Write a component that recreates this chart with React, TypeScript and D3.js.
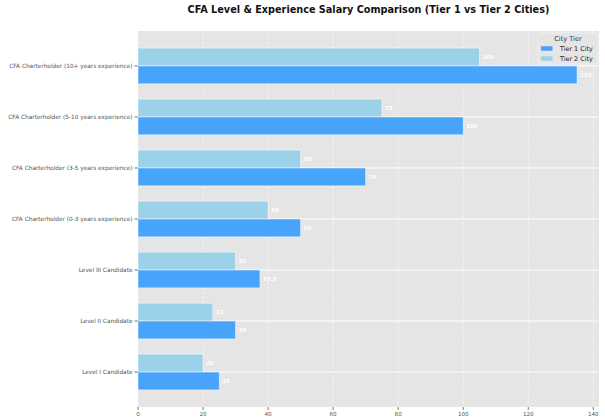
import { useEffect, useRef } from 'react'
import * as d3 from 'd3'

const categories = [
  'Level I Candidate',
  'Level II Candidate',
  'Level III Candidate',
  'CFA Charterholder (0-3 years experience)',
  'CFA Charterholder (3-5 years experience)',
  'CFA Charterholder (5-10 years experience)',
  'CFA Charterholder (10+ years experience)',
]
const tier1 = [25, 30, 37.5, 50, 70, 100, 135]
const tier2 = [20, 23, 30, 40, 50, 75, 105]
const seriesNames = ['Tier 1 City', 'Tier 2 City']
const xTicks = [0, 20, 40, 60, 80, 100, 120, 140]

const W = 605
const H = 419
const M = { left: 138, right: 6, top: 31, bottom: 12 }
const BAR = 0.35
const C1 = '#48a3fa'
const C2 = '#9cd2e9'

export default function App() {
  const ref = useRef<SVGSVGElement | null>(null)

  useEffect(() => {
    if (!ref.current) {return}
    const svg = d3.select(ref.current)
    svg.selectAll('*').remove()
    const font = 'DejaVu Sans, sans-serif'

    const x = d3.scaleLinear().domain([0, 135 * 1.05]).range([M.left, W - M.right])
    const yLo = -BAR - 6.7 * 0.05
    const yHi = 6 + BAR + 6.7 * 0.05
    const y = d3.scaleLinear().domain([yLo, yHi]).range([H - M.bottom, M.top])

    svg.append('rect')
      .attr('x', M.left).attr('y', M.top)
      .attr('width', W - M.right - M.left).attr('height', H - M.bottom - M.top)
      .attr('fill', '#e5e5e5')

    // grid
    svg.append('g').selectAll('line').data(xTicks).join('line')
      .attr('x1', (d) => x(d)).attr('x2', (d) => x(d))
      .attr('y1', M.top).attr('y2', H - M.bottom)
      .attr('stroke', '#ffffff').attr('stroke-opacity', 0.7)
      .attr('stroke-dasharray', '3,2').attr('stroke-width', 0.8)
    svg.append('g').selectAll('line').data(categories).join('line')
      .attr('x1', M.left).attr('x2', W - M.right)
      .attr('y1', (_, i) => y(i)).attr('y2', (_, i) => y(i))
      .attr('stroke', '#ffffff').attr('stroke-width', 1)

    const bh = y(0) - y(BAR)
    const bars = svg.append('g')
    bars.selectAll('rect.t2').data(tier2).join('rect')
      .attr('class', 't2')
      .attr('x', x(0)).attr('y', (_, i) => y(i + BAR))
      .attr('width', (d) => x(d) - x(0)).attr('height', bh)
      .attr('fill', C2).attr('stroke', '#ffffff').attr('stroke-opacity', 0.6).attr('stroke-width', 0.8)
    bars.selectAll('rect.t1').data(tier1).join('rect')
      .attr('class', 't1')
      .attr('x', x(0)).attr('y', (_, i) => y(i))
      .attr('width', (d) => x(d) - x(0)).attr('height', bh)
      .attr('fill', C1).attr('stroke', '#ffffff').attr('stroke-opacity', 0.6).attr('stroke-width', 0.8)

    const labels = svg.append('g')
      .attr('font-family', font).attr('font-size', 5.5).attr('font-weight', 'bold').attr('fill', '#ffffff')
    labels.selectAll('text.t2').data(tier2).join('text')
      .attr('class', 't2')
      .attr('x', (d) => x(d) + 3).attr('y', (_, i) => y(i + BAR / 2))
      .attr('dy', '0.35em').text((d) => String(d))
    labels.selectAll('text.t1').data(tier1).join('text')
      .attr('class', 't1')
      .attr('x', (d) => x(d) + 3).attr('y', (_, i) => y(i - BAR / 2))
      .attr('dy', '0.35em').text((d) => String(d))

    // y axis
    const ya = svg.append('g').attr('font-family', font).attr('font-size', 5.8).attr('fill', '#555555')
    ya.selectAll('line').data(categories).join('line')
      .attr('x1', M.left - 3.5).attr('x2', M.left)
      .attr('y1', (_, i) => y(i)).attr('y2', (_, i) => y(i))
      .attr('stroke', '#555555').attr('stroke-width', 0.8)
    ya.selectAll('text').data(categories).join('text')
      .attr('x', M.left - 5.5).attr('y', (_, i) => y(i))
      .attr('dy', '0.35em').attr('text-anchor', 'end').text((d) => d)

    // x axis
    const xa = svg.append('g').attr('font-family', font).attr('font-size', 5.6).attr('fill', '#555555')
    xa.selectAll('line').data(xTicks).join('line')
      .attr('x1', (d) => x(d)).attr('x2', (d) => x(d))
      .attr('y1', H - M.bottom).attr('y2', H - M.bottom + 3)
      .attr('stroke', '#555555').attr('stroke-width', 0.8)
    xa.selectAll('text').data(xTicks).join('text')
      .attr('x', (d) => x(d)).attr('y', H - M.bottom + 9)
      .attr('text-anchor', 'middle').text((d) => String(d))

    // title
    svg.append('text')
      .attr('x', (M.left + W - M.right) / 2).attr('y', 13)
      .attr('text-anchor', 'middle').attr('font-family', font)
      .attr('font-size', 9.7).attr('font-weight', 'bold').attr('fill', '#111111')
      .text('CFA Level & Experience Salary Comparison (Tier 1 vs Tier 2 Cities)')

    // legend
    const lg = svg.append('g').attr('transform', `translate(${W - M.right - 61},${M.top + 2})`)
    lg.append('rect').attr('width', 60).attr('height', 31).attr('rx', 2)
      .attr('fill', '#e5e5e5').attr('fill-opacity', 0.8).attr('stroke', '#f2f2f2').attr('stroke-width', 0.8)
    lg.append('text').attr('x', 30).attr('y', 7.5).attr('text-anchor', 'middle')
      .attr('font-family', font).attr('font-size', 6.6).attr('fill', '#333333').text('City Tier')
    const items = lg.selectAll('g.item').data(seriesNames).join('g')
      .attr('class', 'item').attr('transform', (_, i) => `translate(3,${15.5 + i * 10})`)
    items.append('rect').attr('width', 11.5).attr('height', 4.5).attr('y', -2.25)
      .attr('fill', (_, i) => (i === 0 ? C1 : C2))
    items.append('text').attr('x', 19).attr('y', 0).attr('dy', '0.35em')
      .attr('font-family', font).attr('font-size', 6.4).attr('fill', '#222222').text((d) => d)
  }, [])

  return (
    <svg ref={ref} width={W} height={H} style={{ display: 'block', position: 'absolute', left: 0, top: 0 }} />
  )
}
